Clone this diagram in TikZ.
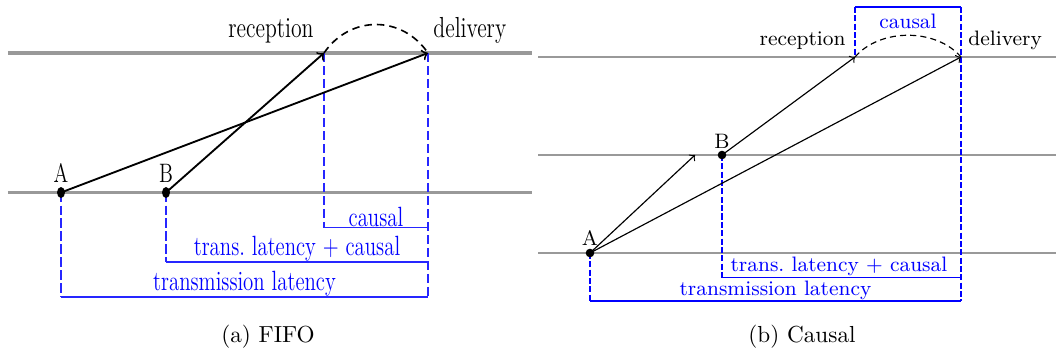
\documentclass[tikz,border=0pt]{standalone}
\usepackage{graphicx}
\newcommand{\sq}[1]{\scalebox{0.75}[1]{#1}}
\begin{document}
\begin{tikzpicture}[x=0.431pt,y=-0.431pt,
  tlL/.style={black!40,line width=1.6pt},
  tlR/.style={black!40,line width=1.1pt},
  msgL/.style={->,line width=0.8pt},
  msgR/.style={->,line width=0.5pt},
  arcL/.style={dash pattern=on 3.2pt off 2.2pt,line width=0.7pt},
  arcR/.style={dash pattern=on 2.6pt off 1.8pt,line width=0.5pt},
  bdashL/.style={blue!85,dash pattern=on 3.9pt off 1.7pt,line width=0.5pt},
  bdashR/.style={blue,dash pattern=on 2.6pt off 1pt,line width=0.55pt},
  barL/.style={blue!85,line width=0.75pt},
  barR/.style={blue,line width=0.6pt},
  lblL/.style={blue,anchor=south,inner sep=0pt,font=\fontsize{12}{14}\selectfont},
  lblR/.style={blue,anchor=south,inner sep=0.3pt,font=\small},
  txtL/.style={inner sep=0pt,font=\fontsize{12.5}{15}\selectfont},
  txtR/.style={inner sep=0pt,font=\small},
  ptL/.style={inner sep=0pt,anchor=base,font=\fontsize{11.5}{13}\selectfont},
  ptR/.style={inner sep=0pt,anchor=base,font=\small},
  captxt/.style={inner sep=0pt,anchor=base}]
\useasboundingbox (0,0) rectangle (1056,352);

% ---------------- (a) FIFO ----------------
\coordinate (LtopW) at (8,53);   \coordinate (LtopE) at (532,53);
\coordinate (LbotW) at (8,192.5);\coordinate (LbotE) at (532,192.5);
\draw[tlL] (LtopW) -- (LtopE);
\draw[tlL] (LbotW) -- (LbotE);
\coordinate (LA) at (61,192.5);
\coordinate (LB) at (166,192.5);
\coordinate (Lrec) at (324,53);
\coordinate (Ldel) at (428,53);
\coordinate (LAd) at (61,297);
\coordinate (LBd) at (166,262);
\coordinate (Lrecd) at (324,227.5);
\coordinate (Ldeld) at (428,297);
\coordinate (Ldelm) at (428,262);
\coordinate (Ldelc) at (428,227.5);

\draw[bdashL] (LA) -- (LAd);
\draw[bdashL] (LB) -- (LBd);
\draw[bdashL] (Lrec) -- (Lrecd);
\draw[bdashL] (Ldel) -- (Ldeld);
\draw[barL] (Lrecd) -- (Ldelc);
\draw[barL] (LBd) -- (Ldelm);
\draw[barL] (LAd) -- (Ldeld);
\node[lblL] (LcausalT) at (376,226.8) {\sq{causal}};
\node[lblL] (LtlcT) at (297,261.5) {\sq{trans.\ latency $+$ causal}};
\node[lblL] (LtlT) at (244.5,296.5) {\sq{transmission latency}};

\draw[msgL] (LA) -- (Ldel);
\draw[msgL] (LB) -- (Lrec);
\draw[arcL] (Lrec) .. controls (350,15) and (402,15) .. (Ldel);
\fill (LA) ellipse [x radius=4, y radius=5.5];
\fill (LB) ellipse [x radius=4, y radius=5.5];
\node[ptL] (LAl) at (61,182) {\sq{A}};
\node[ptL] (LBl) at (166,182) {\sq{B}};
\node[txtL,anchor=base east] (Lrecl) at (314,37) {\sq{reception}};
\node[txtL,anchor=base west] (Ldell) at (433,37) {\sq{delivery}};
\node[captxt] (capa) at (268,342) {(a) FIFO};

% ---------------- (b) Causal ----------------
\coordinate (RtopW) at (538,57);  \coordinate (RtopE) at (1056,57);
\coordinate (RmidW) at (538,155); \coordinate (RmidE) at (1056,155);
\coordinate (RbotW) at (538,253); \coordinate (RbotE) at (1056,253);
\draw[tlR] (RtopW) -- (RtopE);
\draw[tlR] (RmidW) -- (RmidE);
\draw[tlR] (RbotW) -- (RbotE);
\coordinate (RA) at (590,253);
\coordinate (RB) at (722,155);
\coordinate (Rmsg) at (695,155);
\coordinate (Rrec) at (855,57);
\coordinate (Rdel) at (961,57);
\coordinate (Rrect) at (855,7);
\coordinate (Rdelt) at (961,7);
\coordinate (RAd) at (590,301);
\coordinate (RBd) at (722,277.5);
\coordinate (Rdeld) at (961,301);
\coordinate (Rdelm) at (961,277.5);

\draw[bdashR] (Rrect) -- (Rrec);
\draw[bdashR] (Rdelt) -- (Rdeld);
\draw[bdashR] (RA) -- (RAd);
\draw[bdashR] (RB) -- (RBd);
\draw[barR] (Rrect) -- (Rdelt);
\draw[barR] (RBd) -- (Rdelm);
\draw[barR] (RAd) -- (Rdeld);
\node[blue,anchor=base,inner sep=0pt,font=\small] (RcausalT) at (908,28.5) {causal};
\node[lblR] (RtlcT) at (839,277.2) {trans.\ latency $+$ causal};
\node[lblR] (RtlT) at (775.5,300.7) {transmission latency};

\draw[msgR] (RA) -- (Rmsg);
\draw[msgR] (RA) -- (Rdel);
\draw[msgR] (RB) -- (Rrec);
\draw[arcR] (Rrec) .. controls (880,28) and (936,28) .. (Rdel);
\fill (RA) circle [radius=4.3];
\fill (RB) circle [radius=4.3];
\node[ptR] (RAl) at (590,245) {A};
\node[ptR] (RBl) at (722,148) {B};
\node[txtR,anchor=base east] (Rrecl) at (846,45.5) {reception};
\node[txtR,anchor=base west] (Rdell) at (968,45.5) {delivery};
\node[captxt] (capb) at (802,342) {(b) Causal};
\end{tikzpicture}
\end{document}
